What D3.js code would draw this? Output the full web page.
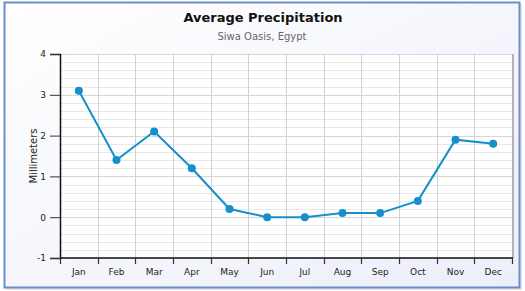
<!DOCTYPE html>
<html>
<head>
<meta charset="utf-8">
<script src="https://cdnjs.cloudflare.com/ajax/libs/d3/7.8.5/d3.min.js"></script>
<style>
  body { margin: 0; background: #fff; }
  svg text { font-family: "DejaVu Sans", Verdana, sans-serif; }
</style>
</head>
<body>
<div id="chart"></div>
<script>
// Data
const months = ["Jan", "Feb", "Mar", "Apr", "May", "Jun", "Jul", "Aug", "Sep", "Oct", "Nov", "Dec"];
const precipitation = [3.1, 1.4, 2.1, 1.2, 0.2, 0, 0, 0.1, 0.1, 0.4, 1.9, 1.8];
const yTicks = [-1, 0, 1, 2, 3, 4];
const title = "Average Precipitation";
const subtitle = "Siwa Oasis, Egypt";
const yLabel = "Millimeters";

const W = 525, H = 291;
const margin = {top: 54, right: 13, bottom: 33, left: 60};
const width = W - margin.left - margin.right;
const height = H - margin.top - margin.bottom;

const svg = d3.select("#chart").append("svg")
  .attr("width", W)
  .attr("height", H);

// background panel with soft gradient
const defs = svg.append("defs");
const grad = defs.append("linearGradient")
  .attr("id", "bg").attr("x1", "0").attr("y1", "0").attr("x2", "1").attr("y2", "1");
grad.append("stop").attr("offset", "0%").attr("stop-color", "#ffffff");
grad.append("stop").attr("offset", "100%").attr("stop-color", "#eceefa");

svg.append("rect")
  .attr("x", 6).attr("y", 4).attr("width", 516).attr("height", 286)
  .attr("fill", "#e4e6ec");
svg.append("rect")
  .attr("x", 4.5).attr("y", 2.5).attr("width", 515).attr("height", 285)
  .attr("fill", "url(#bg)")
  .attr("stroke", "#6a8fc8")
  .attr("stroke-width", 2);

svg.append("text")
  .attr("x", 263).attr("y", 22)
  .attr("text-anchor", "middle")
  .style("font-size", "13px")
  .style("font-weight", "bold")
  .style("fill", "#111")
  .text(title);

svg.append("text")
  .attr("x", 262).attr("y", 40)
  .attr("text-anchor", "middle")
  .style("font-size", "10px")
  .style("fill", "#666")
  .text(subtitle);

const g = svg.append("g")
  .attr("transform", `translate(${margin.left},${margin.top})`);

const x = d3.scaleBand().domain(months).range([0, width]);
const y = d3.scaleLinear().domain([-1, 4]).range([height, 0]);

g.append("rect")
  .attr("width", width).attr("height", height)
  .attr("fill", "#fff");

// minor horizontal grid every 0.2
const minor = d3.range(-1, 4.001, 0.2).map(v => Math.round(v * 10) / 10);
g.selectAll(".minor")
  .data(minor.filter(v => !Number.isInteger(v)))
  .enter().append("line")
  .attr("x1", 0).attr("x2", width)
  .attr("y1", d => Math.round(y(d)) + 0.5)
  .attr("y2", d => Math.round(y(d)) + 0.5)
  .attr("stroke", "#e8e8e8");

g.selectAll(".major")
  .data(yTicks)
  .enter().append("line")
  .attr("x1", 0).attr("x2", width)
  .attr("y1", d => Math.round(y(d)) + 0.5)
  .attr("y2", d => Math.round(y(d)) + 0.5)
  .attr("stroke", "#d6d6d6");

// vertical grid at category boundaries
g.selectAll(".vgrid")
  .data(months.slice(1))
  .enter().append("line")
  .attr("x1", d => Math.round(x(d)) + 0.5)
  .attr("x2", d => Math.round(x(d)) + 0.5)
  .attr("y1", 0).attr("y2", height)
  .attr("stroke", "#d2d2d2");

// right edge of plot
g.append("line")
  .attr("x1", width + 1).attr("x2", width + 1)
  .attr("y1", 0).attr("y2", height)
  .attr("stroke", "#b4b4b4").attr("stroke-width", 2);

// y axis
const yAxis = g.append("g")
  .call(d3.axisLeft(y).tickValues(yTicks).tickFormat(d => String(d)).tickSize(10).tickPadding(4));
yAxis.select(".domain").attr("stroke", "#111").attr("stroke-width", 1.5);
yAxis.selectAll(".tick line").attr("stroke", "#333");
yAxis.selectAll("text").style("font-size", "9px").style("fill", "#222")
  .attr("font-family", null);

// x axis with ticks at category boundaries
const xAxis = g.append("g").attr("transform", `translate(0,${height})`);
xAxis.append("line")
  .attr("x1", 0).attr("x2", width + 1)
  .attr("y1", 0).attr("y2", 0)
  .attr("stroke", "#111").attr("stroke-width", 1.5);
xAxis.selectAll(".xtick")
  .data(months.concat(["end"]))
  .enter().append("line")
  .attr("x1", (d, i) => i < months.length ? Math.round(x(d)) + 0.5 : width + 0.5)
  .attr("x2", (d, i) => i < months.length ? Math.round(x(d)) + 0.5 : width + 0.5)
  .attr("y1", 0).attr("y2", 6)
  .attr("stroke", "#333").attr("stroke-width", 1.2);
xAxis.selectAll(".xlabel")
  .data(months)
  .enter().append("text")
  .attr("x", d => x(d) + x.bandwidth() / 2)
  .attr("y", 17)
  .attr("text-anchor", "middle")
  .style("font-size", "9px")
  .style("fill", "#222")
  .text(d => d);

// y label
svg.append("text")
  .attr("transform", `translate(37,${margin.top + y(1.5)}) rotate(-90)`)
  .attr("text-anchor", "middle")
  .style("font-size", "10px")
  .style("fill", "#222")
  .text(yLabel);

// series
const line = d3.line()
  .x((d, i) => x(months[i]) + x.bandwidth() / 2)
  .y(d => y(d));

g.append("path")
  .datum(precipitation)
  .attr("d", line)
  .attr("fill", "none")
  .attr("stroke", "#1590cc")
  .attr("stroke-width", 2);

g.selectAll(".pt")
  .data(precipitation)
  .enter().append("circle")
  .attr("cx", (d, i) => x(months[i]) + x.bandwidth() / 2)
  .attr("cy", d => y(d))
  .attr("r", 4)
  .attr("fill", "#1590cc");
</script>
</body>
</html>
